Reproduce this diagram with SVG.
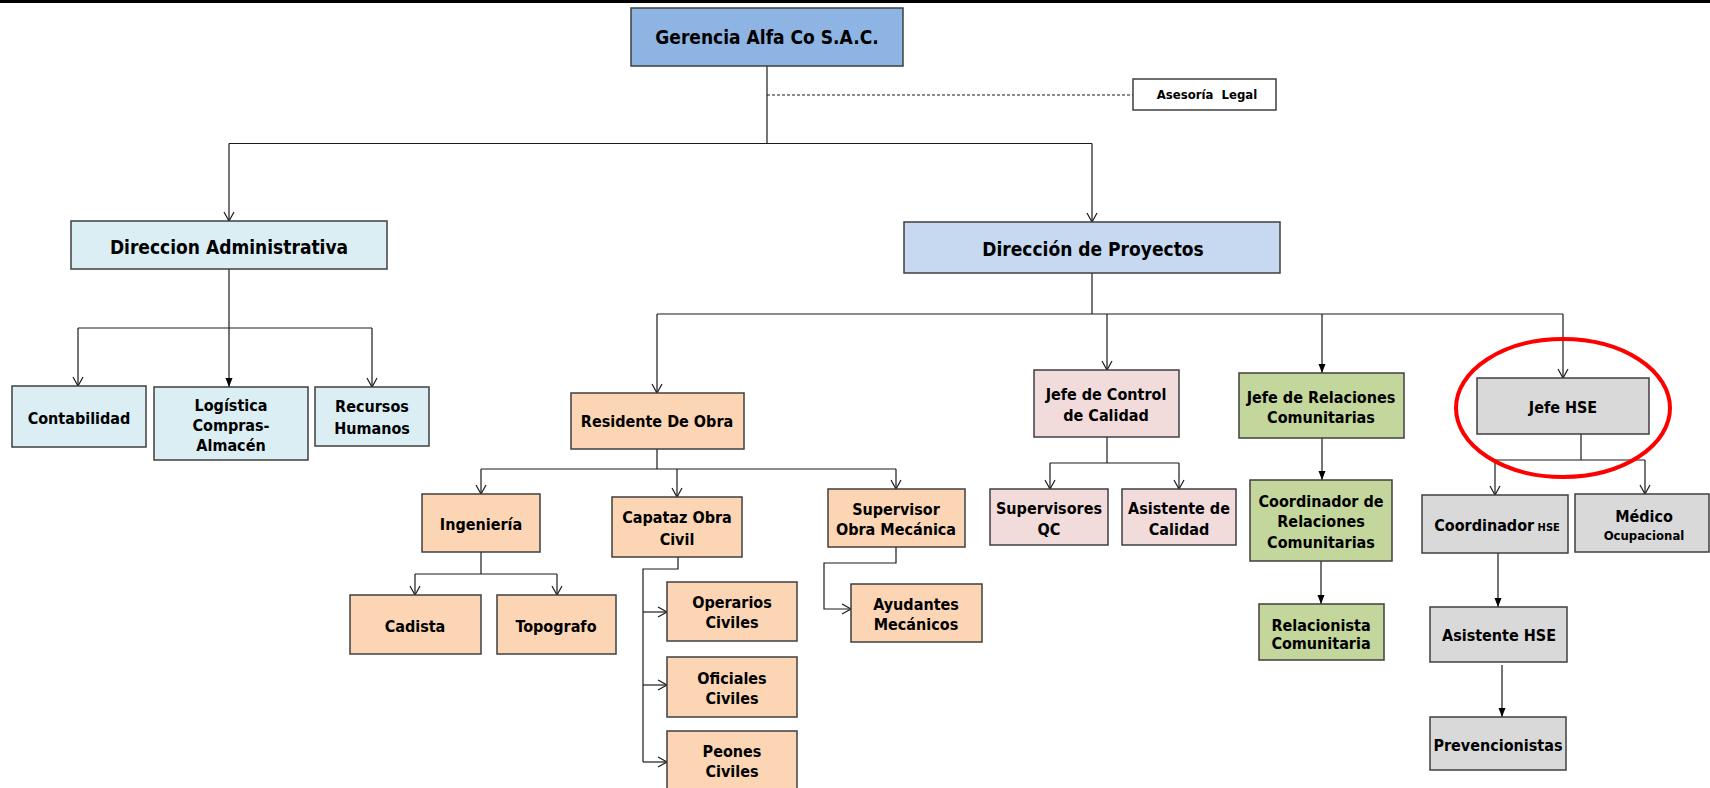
<svg xmlns="http://www.w3.org/2000/svg" width="1710" height="788" viewBox="0 0 1710 788">
<style>
.box{stroke:#3f3f3f;stroke-width:1.5}
.t{font-family:'DejaVu Sans Condensed','DejaVu Sans',sans-serif;font-stretch:condensed;font-weight:bold;font-size:16px;text-anchor:middle;fill:#000}
.big{font-size:19px}
.sm{font-size:13px}
.c{fill:none;stroke:#1a1a1a;stroke-width:1.2}
.o{marker-end:url(#ao)}
.f{marker-end:url(#af)}
.blue{fill:#8DB4E2}.cyan{fill:#DBEEF4}.lblue{fill:#C6D9F1}.peach{fill:#FCD5B5}.pink{fill:#F2DCDB}.green{fill:#C3D69B}.gray{fill:#D9D9D9}.white{fill:#FFFFFF}
</style>
<defs>
<marker id="ao" markerUnits="userSpaceOnUse" markerWidth="12" markerHeight="12" refX="10" refY="6" orient="auto"><path d="M1,1 L10,6 L1,11" fill="none" stroke="#1a1a1a" stroke-width="1.2"/></marker>
<marker id="af" markerUnits="userSpaceOnUse" markerWidth="10" markerHeight="8" refX="9" refY="4" orient="auto"><path d="M0,0.5 L9,4 L0,7.5 z" fill="#000"/></marker>
</defs>
<rect x="0" y="0" width="1710" height="788" fill="#fff"/>
<rect x="0" y="0" width="1710" height="3" fill="#000"/>

<g id="connectors">
<path class="c" d="M767,66 V143.5"/>
<path class="c" d="M229,143.5 H1092"/>
<path class="c o" d="M229,143.5 V221"/>
<path class="c o" d="M1092,143.5 V222"/>
<path class="c" d="M767,95 H1133" stroke-dasharray="3,2" stroke-width="1"/>
<path class="c f" d="M229,269 V387"/>
<path class="c" d="M78,328 H372"/>
<path class="c o" d="M78,328 V386"/>
<path class="c o" d="M372,328 V387"/>
<path class="c" d="M1092,273 V314"/>
<path class="c" d="M657,314 H1563"/>
<path class="c o" d="M657,314 V393"/>
<path class="c o" d="M1107,314 V370"/>
<path class="c f" d="M1322,314 V373"/>
<path class="c o" d="M1563,314 V378"/>
<path class="c" d="M657,449 V469"/>
<path class="c" d="M481,469 H896"/>
<path class="c o" d="M481,469 V494"/>
<path class="c o" d="M677,469 V497"/>
<path class="c o" d="M896,469 V489"/>
<path class="c" d="M481,552 V574"/>
<path class="c" d="M415,574 H557"/>
<path class="c o" d="M415,574 V595"/>
<path class="c o" d="M557,574 V595"/>
<path class="c" d="M678,557 V569 H643 V762"/>
<path class="c o" d="M643,612 H667"/>
<path class="c o" d="M643,685 H667"/>
<path class="c o" d="M643,762 H667"/>
<path class="c o" d="M896,547 V563 H824 V609 H851"/>
<path class="c" d="M1107,437 V463"/>
<path class="c" d="M1050,463 H1179"/>
<path class="c o" d="M1050,463 V489"/>
<path class="c o" d="M1179,463 V489"/>
<path class="c f" d="M1322,438 V480"/>
<path class="c f" d="M1321,561 V604"/>
<path class="c" d="M1581,434 V460"/>
<path class="c" d="M1495,460 H1645"/>
<path class="c o" d="M1495,460 V495"/>
<path class="c o" d="M1645,460 V494"/>
<path class="c f" d="M1498,553 V607"/>
<path class="c f" d="M1502,665 V717"/>
</g>

<g id="gerencia"><rect class="box blue" x="631" y="8" width="272" height="58"/><text class="t big" x="767" y="44">Gerencia Alfa Co S.A.C.</text></g>
<g id="asesoria"><rect class="box white" x="1133" y="79" width="143" height="31"/><text class="t sm" x="1207" y="99" xml:space="preserve">Asesoría  Legal</text></g>
<g id="dir-admin"><rect class="box cyan" x="71" y="221" width="316" height="48"/><text class="t big" x="229" y="254">Direccion Administrativa</text></g>
<g id="dir-proy"><rect class="box lblue" x="904" y="222" width="376" height="51"/><text class="t big" x="1093" y="256">Dirección de Proyectos</text></g>
<g id="contabilidad"><rect class="box cyan" x="12" y="386" width="134" height="61"/><text class="t" x="79" y="424">Contabilidad</text></g>
<g id="logistica"><rect class="box cyan" x="154" y="387" width="154" height="73"/><text class="t" x="231" y="411">Logística</text><text class="t" x="231" y="431">Compras-</text><text class="t" x="231" y="451">Almacén</text></g>
<g id="rrhh"><rect class="box cyan" x="315" y="387" width="114" height="59"/><text class="t" x="372" y="412">Recursos</text><text class="t" x="372" y="434">Humanos</text></g>
<g id="residente"><rect class="box peach" x="571" y="393" width="173" height="56"/><text class="t" x="657" y="427">Residente De Obra</text></g>
<g id="ingenieria"><rect class="box peach" x="422" y="494" width="118" height="58"/><text class="t" x="481" y="530">Ingeniería</text></g>
<g id="capataz"><rect class="box peach" x="612" y="497" width="130" height="60"/><text class="t" x="677" y="523">Capataz Obra</text><text class="t" x="677" y="545">Civil</text></g>
<g id="supervisor-mec"><rect class="box peach" x="828" y="489" width="137" height="58"/><text class="t" x="896" y="515">Supervisor</text><text class="t" x="896" y="535">Obra Mecánica</text></g>
<g id="cadista"><rect class="box peach" x="350" y="595" width="131" height="59"/><text class="t" x="415" y="632">Cadista</text></g>
<g id="topografo"><rect class="box peach" x="497" y="595" width="119" height="59"/><text class="t" x="556" y="632">Topografo</text></g>
<g id="operarios"><rect class="box peach" x="667" y="582" width="130" height="59"/><text class="t" x="732" y="608">Operarios</text><text class="t" x="732" y="628">Civiles</text></g>
<g id="oficiales"><rect class="box peach" x="667" y="657" width="130" height="60"/><text class="t" x="732" y="684">Oficiales</text><text class="t" x="732" y="704">Civiles</text></g>
<g id="peones"><rect class="box peach" x="667" y="731" width="130" height="59"/><text class="t" x="732" y="757">Peones</text><text class="t" x="732" y="777">Civiles</text></g>
<g id="ayudantes"><rect class="box peach" x="851" y="584" width="131" height="58"/><text class="t" x="916" y="610">Ayudantes</text><text class="t" x="916" y="630">Mecánicos</text></g>
<g id="jefe-calidad"><rect class="box pink" x="1034" y="370" width="145" height="67"/><text class="t" x="1106" y="400">Jefe de Control</text><text class="t" x="1106" y="421">de Calidad</text></g>
<g id="jefe-rrcc"><rect class="box green" x="1239" y="373" width="165" height="65"/><text class="t" x="1321" y="403">Jefe de Relaciones</text><text class="t" x="1321" y="423">Comunitarias</text></g>
<g id="jefe-hse"><rect class="box gray" x="1477" y="378" width="172" height="56"/><text class="t" x="1563" y="413">Jefe HSE</text></g>
<g id="supervisores-qc"><rect class="box pink" x="990" y="489" width="118" height="56"/><text class="t" x="1049" y="514">Supervisores</text><text class="t" x="1049" y="535">QC</text></g>
<g id="asistente-calidad"><rect class="box pink" x="1122" y="489" width="114" height="56"/><text class="t" x="1179" y="514">Asistente de</text><text class="t" x="1179" y="535">Calidad</text></g>
<g id="coord-rrcc"><rect class="box green" x="1250" y="480" width="142" height="81"/><text class="t" x="1321" y="507">Coordinador de</text><text class="t" x="1321" y="527">Relaciones</text><text class="t" x="1321" y="548">Comunitarias</text></g>
<g id="coord-hse"><rect class="box gray" x="1422" y="495" width="146" height="58"/><text class="t" x="1497" y="531">Coordinador<tspan font-size="11"> HSE</tspan></text></g>
<g id="medico"><rect class="box gray" x="1575" y="494" width="134" height="58"/><text class="t" x="1644" y="522">Médico</text><text class="t sm" x="1644" y="540">Ocupacional</text></g>
<g id="relacionista"><rect class="box green" x="1259" y="604" width="125" height="56"/><text class="t" x="1321" y="631">Relacionista</text><text class="t" x="1321" y="649" font-size="14">Comunitaria</text></g>
<g id="asistente-hse"><rect class="box gray" x="1430" y="607" width="137" height="55"/><text class="t" x="1499" y="641">Asistente HSE</text></g>
<g id="prevencionistas"><rect class="box gray" x="1430" y="717" width="136" height="53"/><text class="t" x="1498" y="751">Prevencionistas</text></g>

<ellipse id="highlight" cx="1563" cy="408" rx="107" ry="69" fill="none" stroke="#FF0000" stroke-width="4"/>
</svg>
